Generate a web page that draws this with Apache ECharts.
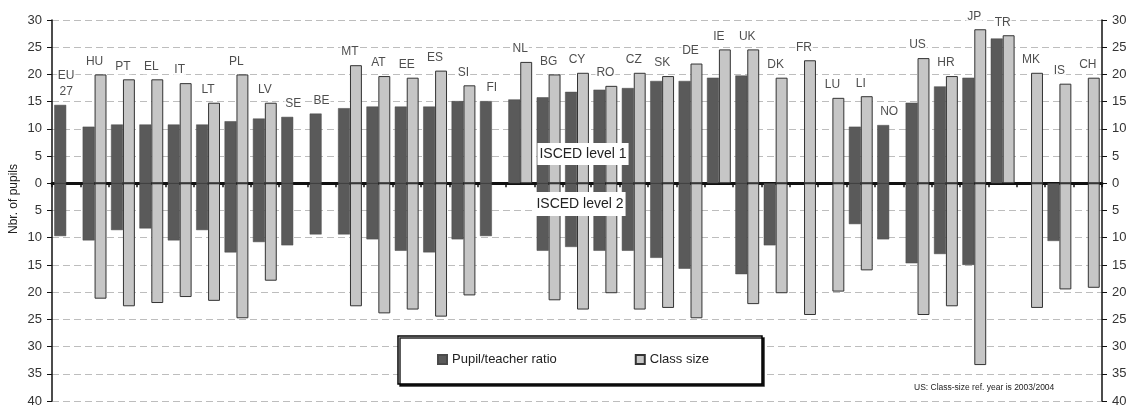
<!DOCTYPE html>
<html>
<head>
<meta charset="utf-8">
<title>Pupil/teacher ratio and class size</title>
<script src="https://cdn.jsdelivr.net/npm/echarts@6/dist/echarts.min.js"></script>
<style>
  html, body { margin: 0; padding: 0; background: #fff; }
  #chart { width: 1131px; height: 408px; }
</style>
</head>
<body>
<div id="chart"></div>
<script>
// Countries, in display order
const categories = ['EU\n27', 'HU', 'PT', 'EL', 'IT', 'LT', 'PL', 'LV', 'SE', 'BE', 'MT', 'AT', 'EE', 'ES', 'SI', 'FI',
  'NL', 'BG', 'CY', 'RO', 'CZ', 'SK', 'DE', 'IE', 'UK', 'DK', 'FR', 'LU', 'LI', 'NO', 'US', 'HR', 'JP', 'TR', 'MK', 'IS', 'CH'];

// ISCED level 1 (drawn above zero)
const ratioLevel1 = [14.4, 10.4, 10.8, 10.8, 10.8, 10.8, 11.4, 11.9, 12.2, 12.8, 13.8, 14.1, 14.1, 14.1, 15.1, 15.1,
  15.4, 15.8, 16.8, 17.2, 17.5, 18.8, 18.8, 19.4, 19.8, null, null, null, 10.4, 10.7, 14.8, 17.8, 19.4, 26.6, null, null, null];
const classLevel1 = [null, 20.0, 19.1, 19.1, 18.4, 14.8, 20.0, 14.8, null, null, 21.7, 19.7, 19.4, 20.7, 18.0, null,
  22.3, 20.0, 20.3, 17.9, 20.3, 19.7, 22.0, 24.6, 24.6, 19.4, 22.6, 15.7, 16.0, null, 23.0, 19.7, 28.3, 27.2, 20.3, 18.3, 19.4];

// ISCED level 2 (drawn below zero)
const ratioLevel2 = [9.7, 10.5, 8.6, 8.3, 10.5, 8.6, 12.7, 10.8, 11.4, 9.4, 9.4, 10.3, 12.4, 12.7, 10.3, 9.7,
  null, 12.4, 11.7, 12.4, 12.4, 13.7, 15.7, null, 16.7, 11.4, null, null, 7.5, 10.3, 14.7, 13.0, 15.0, null, null, 10.6, null];
const classLevel2 = [null, 21.2, 22.6, 22.0, 20.9, 21.6, 24.8, 17.9, null, null, 22.6, 23.9, 23.2, 24.5, 20.6, null,
  null, 21.5, 23.2, 20.2, 23.2, 22.9, 24.8, null, 22.2, 20.2, 24.2, 19.9, 16.0, null, 24.2, 22.6, 33.4, null, 22.9, 19.5, 19.2];

// Value axis
const axisMin = -40;
const axisMax = 30;
const axisStep = 5;

const FONT = "'Liberation Sans', Arial, Helvetica, sans-serif";
const DARK = '#5a5a5a';
const LIGHT = '#c6c6c6';

const below = arr => arr.map(v => (v == null ? null : -v));
const labelHeights = categories.map((c, i) => {
  const vals = [ratioLevel1[i], classLevel1[i]].filter(v => v != null);
  return vals.length ? Math.max.apply(null, vals) : 0;
});

const chart = echarts.init(document.getElementById('chart'), null, { renderer: 'canvas' });

const valueAxisBase = {
  type: 'value',
  min: axisMin,
  max: axisMax,
  interval: axisStep,
  axisLine: { show: true, lineStyle: { color: '#111', width: 1.5 } },
  axisTick: { show: true, length: 5, lineStyle: { color: '#111', width: 1 } },
  axisLabel: {
    fontSize: 13, color: '#333', fontFamily: FONT, margin: 10,
    formatter: v => String(Math.abs(v))
  }
};

const barBase = {
  type: 'bar',
  barGap: '0%',
  barCategoryGap: '16%',
  xAxisIndex: 0,
  yAxisIndex: 0
};

chart.setOption({
  animation: false,
  backgroundColor: '#fff',
  textStyle: { fontFamily: FONT },
  grid: { left: 52, right: 29, top: 20, bottom: 7, containLabel: false },
  xAxis: {
    type: 'category',
    data: categories,
    boundaryGap: true,
    axisLine: { onZero: true, lineStyle: { color: '#111', width: 3 } },
    axisTick: { show: true, length: 4, lineStyle: { color: '#111', width: 1.5 } },
    axisLabel: { show: false },
    splitLine: { show: false }
  },
  yAxis: [
    Object.assign({}, valueAxisBase, {
      position: 'left',
      splitLine: { show: true, lineStyle: { color: '#bdbdbd', width: 1, type: [7, 4] } }
    }),
    Object.assign({}, valueAxisBase, {
      position: 'right',
      splitLine: { show: false }
    })
  ],
  legend: {
    left: 437,
    top: 353,
    padding: 0,
    itemWidth: 9,
    itemHeight: 9,
    itemGap: 78,
    icon: 'rect',
    data: ['Pupil/teacher ratio', 'Class size'],
    textStyle: { fontSize: 13, color: '#222', fontFamily: FONT }
  },
  graphic: [
    {
      type: 'rect', z: 3,
      shape: { x: 398, y: 336, width: 364, height: 48 },
      style: { fill: '#fff', stroke: '#000', lineWidth: 1.5, shadowColor: 'rgba(0,0,0,0.85)', shadowOffsetX: 2, shadowOffsetY: 2, shadowBlur: 0 }
    },
    {
      type: 'text', z: 10,
      style: {
        x: 583, y: 154, text: 'ISCED level 1', align: 'center', verticalAlign: 'middle',
        font: '14px ' + FONT, fill: '#222', backgroundColor: '#fff', padding: [4, 2]
      }
    },
    {
      type: 'text', z: 10,
      style: {
        x: 580, y: 204, text: 'ISCED level 2', align: 'center', verticalAlign: 'middle',
        font: '14px ' + FONT, fill: '#222', backgroundColor: '#fff', padding: [5, 2]
      }
    },
    {
      type: 'text', z: 10, rotation: Math.PI / 2,
      x: 14, y: 199,
      style: {
        x: 0, y: 0, text: 'Nbr. of pupils', align: 'center', verticalAlign: 'middle',
        font: '12px ' + FONT, fill: '#222'
      }
    },
    {
      type: 'text', z: 10,
      style: {
        x: 914, y: 388, text: 'US: Class-size ref. year is 2003/2004', align: 'left', verticalAlign: 'middle',
        font: '8.5px ' + FONT, fill: '#222'
      }
    }
  ],
  series: [
    Object.assign({}, barBase, {
      name: 'Pupil/teacher ratio', stack: 'ratio',
      data: ratioLevel1,
      itemStyle: { color: DARK, borderColor: '#4a4a4a', borderWidth: 0.5 }
    }),
    Object.assign({}, barBase, {
      name: 'Class size', stack: 'class',
      data: classLevel1,
      itemStyle: { color: LIGHT, borderColor: '#333', borderWidth: 1 }
    }),
    Object.assign({}, barBase, {
      name: 'Pupil/teacher ratio', stack: 'ratio',
      data: below(ratioLevel2),
      itemStyle: { color: DARK, borderColor: '#4a4a4a', borderWidth: 0.5 }
    }),
    Object.assign({}, barBase, {
      name: 'Class size', stack: 'class',
      data: below(classLevel2),
      itemStyle: { color: LIGHT, borderColor: '#333', borderWidth: 1 }
    }),
    {
      // Country names above each pair of ISCED 1 bars
      type: 'scatter',
      name: 'countries',
      symbolSize: 0,
      silent: true,
      z: 5,
      data: labelHeights,
      label: {
        show: true,
        position: 'top',
        distance: 5,
        formatter: p => p.name,
        fontSize: 12,
        lineHeight: 16,
        color: '#222',
        fontFamily: FONT,
        backgroundColor: '#fff',
        padding: [0, 1]
      }
    }
  ]
});
</script>
</body>
</html>
